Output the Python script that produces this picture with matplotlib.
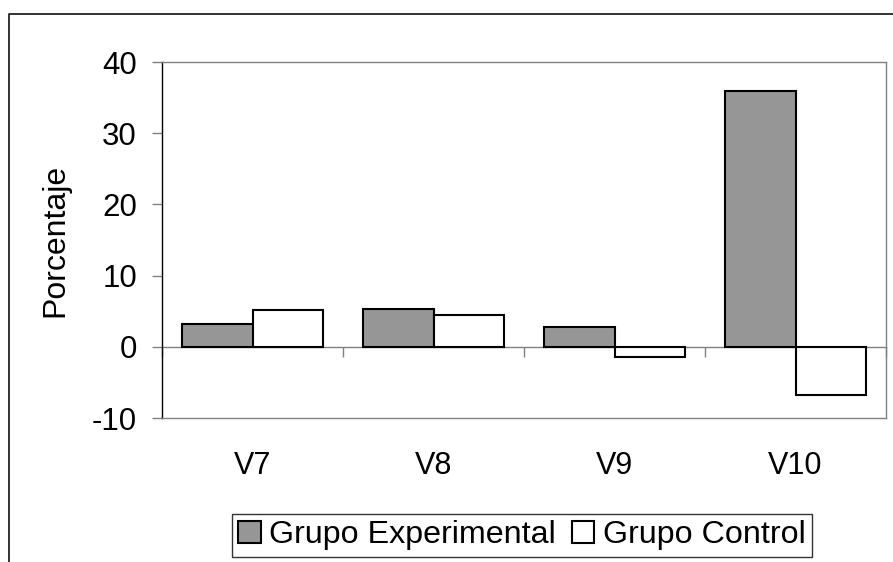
import matplotlib
matplotlib.use('Agg')
import matplotlib.pyplot as plt
from matplotlib.lines import Line2D
import numpy as np

plt.rcParams['font.family'] = ['Liberation Sans', 'DejaVu Sans']
plt.rcParams['axes.unicode_minus'] = False

categories = ['V7', 'V8', 'V9', 'V10']
experimental = [3.2, 5.3, 2.8, 35.9]
control = [5.2, 4.4, -1.4, -6.7]
series_names = ['Grupo Experimental', 'Grupo Control']
yticks = [-10, 0, 10, 20, 30, 40]

W, H = 893, 562
fig = plt.figure(figsize=(W / 100, H / 100), dpi=100)
ax = fig.add_axes([162 / W, 1 - 418 / H, 724 / W, 356 / H])

x = np.arange(len(categories))
width = 0.387
grey = '#808080'

b1 = ax.bar(x - width / 2, experimental, width, color='#969696',
            edgecolor='black', linewidth=1.5, label=series_names[0], zorder=3)
b2 = ax.bar(x + width / 2, control, width, color='white',
            edgecolor='black', linewidth=1.5, label=series_names[1], zorder=3)

ax.set_xlim(-0.5, len(categories) - 0.5)
ax.set_ylim(yticks[0], yticks[-1])
ax.set_yticks(yticks)
ax.set_xticks(x)
ax.set_xticklabels(categories)
ax.tick_params(axis='x', length=0, pad=24, labelsize=22)
ax.tick_params(axis='y', length=7, width=1, color=grey, pad=11, labelsize=22.5)

for side in ['top', 'right', 'bottom']:
    ax.spines[side].set_color(grey)
    ax.spines[side].set_linewidth(1)
ax.spines['left'].set_color('black')
ax.spines['left'].set_linewidth(1)

# category axis crossing at zero, with ticks between groups
zero_frac = (0 - yticks[0]) / (yticks[-1] - yticks[0])
sec = ax.secondary_xaxis(zero_frac)
sec.set_xticks(np.arange(len(categories) + 1) - 0.5)
sec.tick_params(length=7, width=1, color=grey, labelbottom=False, labeltop=False)
sec.spines['bottom'].set_color(grey)
sec.spines['bottom'].set_linewidth(1)
sec.spines['top'].set_visible(False)

ax.set_ylabel('Porcentaje', fontsize=23)
ax.yaxis.set_label_coords(-0.127, 0.5)

leg = fig.legend(handles=[b1, b2], labels=series_names, loc='upper left',
                 bbox_to_anchor=(232 / W, 1 - 514 / H), ncol=2, fontsize=23.2,
                 frameon=True, fancybox=False, borderaxespad=0,
                 handlelength=0.7, handleheight=0.7, handletextpad=0.25,
                 columnspacing=0.5, borderpad=0.2)
leg.get_frame().set_edgecolor('black')
leg.get_frame().set_linewidth(1)

# chart area frame
fig.add_artist(Line2D([9 / W, 9 / W, 1], [0, 1 - 14 / H, 1 - 14 / H],
                      transform=fig.transFigure, color='#222222', linewidth=1.3))

fig.savefig('out.png', dpi=100)
